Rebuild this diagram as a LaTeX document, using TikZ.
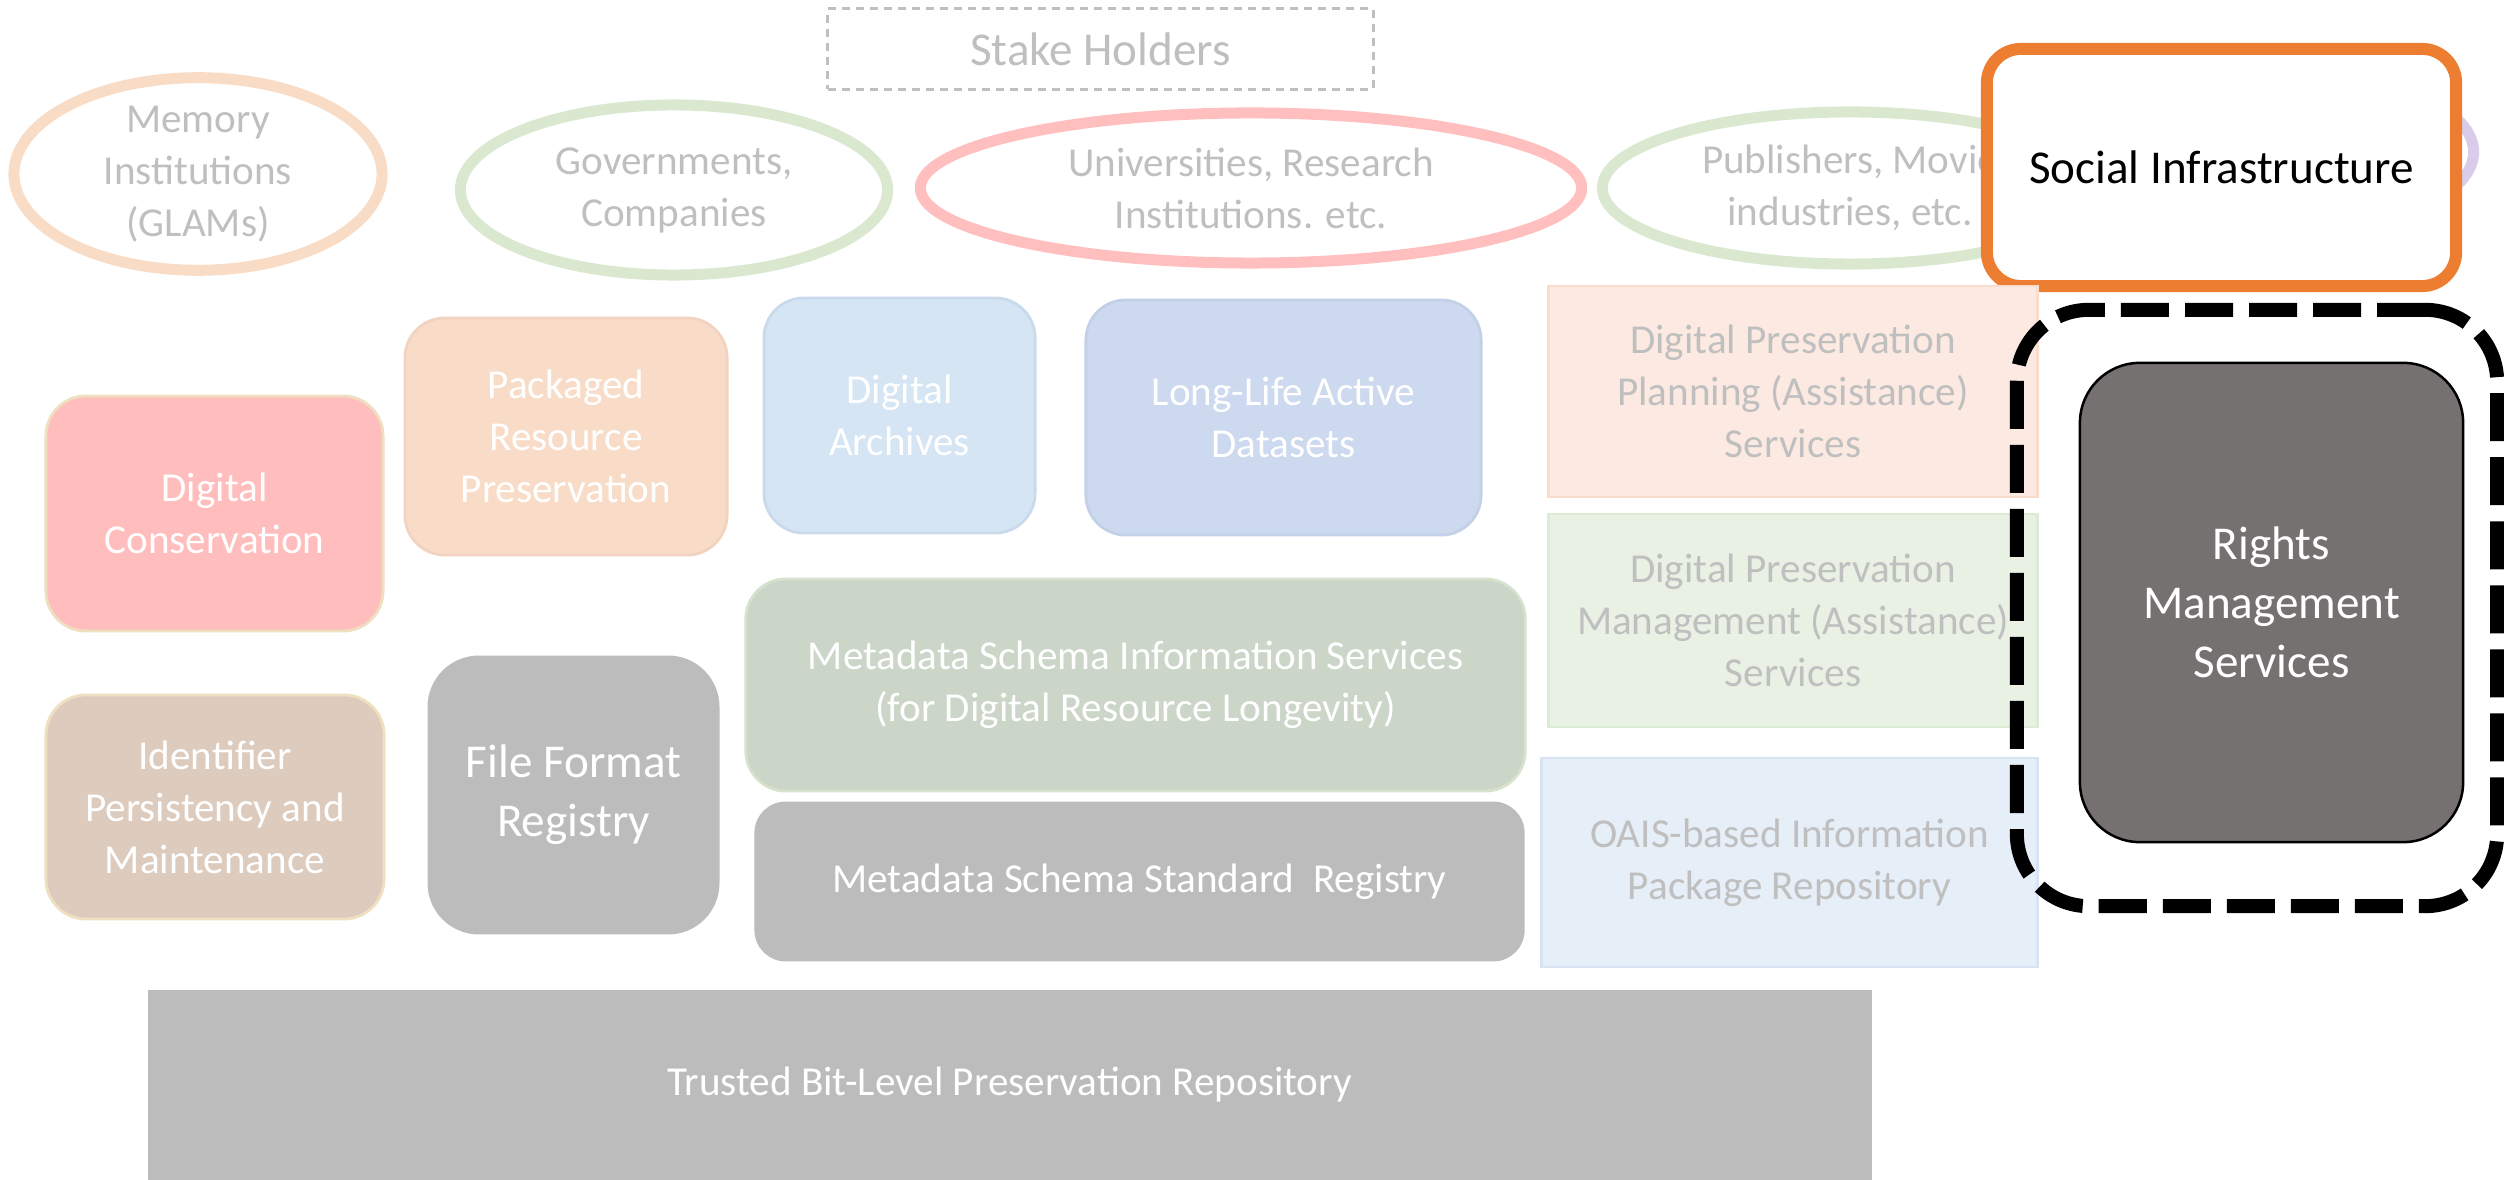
\documentclass[tikz,border=0pt]{standalone}
\usepackage{fontspec}
\setmainfont{Carlito}
\usetikzlibrary{shapes.geometric}
\definecolor{TextGray}{HTML}{BFBFBF}
\definecolor{RingPeach}{HTML}{F9DCC6}
\definecolor{RingGreen}{HTML}{D9E8CF}
\definecolor{RingPink}{HTML}{FFBFBF}
\definecolor{RingPurple}{HTML}{D9CCEA}
\definecolor{SocialOrange}{HTML}{ED7D31}
\definecolor{ConsPink}{HTML}{FFBDBD}
\definecolor{ConsEdge}{HTML}{EEDFC0}
\definecolor{PackPeach}{HTML}{F8DCC8}
\definecolor{PackEdge}{HTML}{F1D3C0}
\definecolor{ArchBlue}{HTML}{D5E5F3}
\definecolor{ArchEdge}{HTML}{C9DAEC}
\definecolor{LongBlue}{HTML}{CDD9EE}
\definecolor{LongEdge}{HTML}{C2D0E8}
\definecolor{PlanPeach}{HTML}{FCEAE2}
\definecolor{PlanEdge}{HTML}{FADCCC}
\definecolor{MgmtGreen}{HTML}{E8F1E3}
\definecolor{MgmtEdge}{HTML}{DCEBD3}
\definecolor{OaisBlue}{HTML}{E6EEF8}
\definecolor{OaisEdge}{HTML}{D8E4F4}
\definecolor{MdGreen}{HTML}{CBD5C8}
\definecolor{MdEdge}{HTML}{D6E2CE}
\definecolor{RegGray}{HTML}{BCBCBC}
\definecolor{IdentTan}{HTML}{DDCBBE}
\definecolor{IdentEdge}{HTML}{EEE0C0}
\definecolor{RightsGray}{HTML}{767171}
\newcommand{\smallblockfont}{\fontsize{11.7}{14.8}\selectfont}
\newcommand{\bigblockfont}{\fontsize{13.4}{16.8}\selectfont}
\newcommand{\drawring}{\node[draw,ellipse,inner sep=0,line width=0.11cm,text=TextGray,align=center,font=\smallblockfont]}
\newcommand{\drawblock}{\node[draw,rectangle,rounded corners=0.4cm,inner sep=0,line width=0.8pt,text=white,align=center,font=\smallblockfont]}
\newcommand{\drawpanel}{\node[draw,rectangle,inner sep=0,line width=0.8pt,text=TextGray,align=center,font=\smallblockfont]}

\begin{document}
\begin{tikzpicture}[x=0.01cm, y=-0.01cm]
\useasboundingbox (0,0) rectangle (2504,1180);
%stake holders row
\node[draw=TextGray,dash pattern=on 0.08cm off 0.06cm,line width=0.03cm,minimum width=5.45cm,minimum height=0.8cm,inner sep=0,text=TextGray,font=\bigblockfont] (stake) at (1100.5,49) {Stake Holders};
\drawring[draw=RingPeach,minimum width=3.68cm,minimum height=1.77cm] (memory) at (198,174) {Memory\\Institutions\\(GLAMs)};
\drawring[draw=RingGreen,minimum width=4.27cm,minimum height=1.70cm] (govern) at (674,190) {Governments,\\Companies};
\drawring[draw=RingPink,minimum width=6.61cm,minimum height=1.50cm] (univ) at (1251,188) {Universities, Research\\Institutions. etc.};
\drawring[draw=RingGreen,minimum width=4.95cm,minimum height=1.52cm] (publish) at (1850,188) {Publishers, Movie\\industries, etc.};
\drawring[draw=RingPurple,minimum width=4.29cm,minimum height=1.71cm] (other) at (2259,152) {};
\node[draw=SocialOrange,line width=0.12cm,fill=white,rounded corners=0.34cm,minimum width=4.69cm,minimum height=2.37cm,inner sep=0,font=\bigblockfont] (social) at (2221.5,167.5) {Social Infrastructure};

%services
\drawblock[draw=ConsEdge,fill=ConsPink,minimum width=3.37cm,minimum height=2.35cm] (conserv) at (214.5,513.5) {Digital\\Conservation};
\drawblock[draw=PackEdge,fill=PackPeach,minimum width=3.22cm,minimum height=2.37cm] (packaged) at (566,436.5) {Packaged\\Resource\\Preservation};
\drawblock[draw=ArchEdge,fill=ArchBlue,minimum width=2.71cm,minimum height=2.35cm] (archives) at (899.5,415.5) {Digital\\Archives};
\drawblock[draw=LongEdge,fill=LongBlue,minimum width=3.95cm,minimum height=2.35cm] (longlife) at (1283.5,417.5) {Long-Life Active\\Datasets};
\drawblock[draw=IdentEdge,fill=IdentTan,minimum width=3.38cm,minimum height=2.24cm] (ident) at (215,807) {Identifier\\Persistency and\\Maintenance};
\drawblock[draw=RegGray,fill=RegGray,minimum width=2.89cm,minimum height=2.76cm,rounded corners=0.5cm,font=\bigblockfont] (format) at (573.5,795) {File Format\\Registry};
\drawblock[draw=MdEdge,fill=MdGreen,minimum width=7.79cm,minimum height=2.12cm] (mdinfo) at (1135.5,685) {Metadata Schema Information Services\\(for Digital Resource Longevity)};
\drawblock[draw=RegGray,fill=RegGray,minimum width=7.67cm,minimum height=1.57cm,rounded corners=0.3cm] (mdstd) at (1139.5,881.5) {Metadata Schema Standard\ \ Registry};
\drawpanel[draw=PlanEdge,fill=PlanPeach,minimum width=4.88cm,minimum height=2.11cm] (plan) at (1793,391.5) {Digital Preservation\\Planning (Assistance)\\Services};
\drawpanel[draw=MgmtEdge,fill=MgmtGreen,minimum width=4.88cm,minimum height=2.13cm] (manage) at (1793,620.5) {Digital Preservation\\Management (Assistance)\\Services};
\drawpanel[draw=OaisEdge,fill=OaisBlue,minimum width=4.95cm,minimum height=2.09cm] (oais) at (1789.5,862.5) {OAIS-based Information\\Package Repository};
\drawpanel[draw=none,fill=RegGray,text=white,minimum width=17.23cm,minimum height=1.90cm] (trusted) at (1009.5,1085) {Trusted Bit-Level Preservation Repository};

%rights management
\node[draw,dash pattern=on 0.48cm off 0.16cm,line width=0.14cm,rounded corners=0.72cm,minimum width=4.8cm,minimum height=5.96cm,inner sep=0] (frame) at (2257,608) {};
\node[draw,fill=RightsGray,line width=0.025cm,rounded corners=0.6cm,minimum width=3.83cm,minimum height=4.79cm,inner sep=0,text=white,align=center,font=\bigblockfont] (rights) at (2271.5,602.5) {Rights\\Management\\Services};
\end{tikzpicture}
\end{document}
